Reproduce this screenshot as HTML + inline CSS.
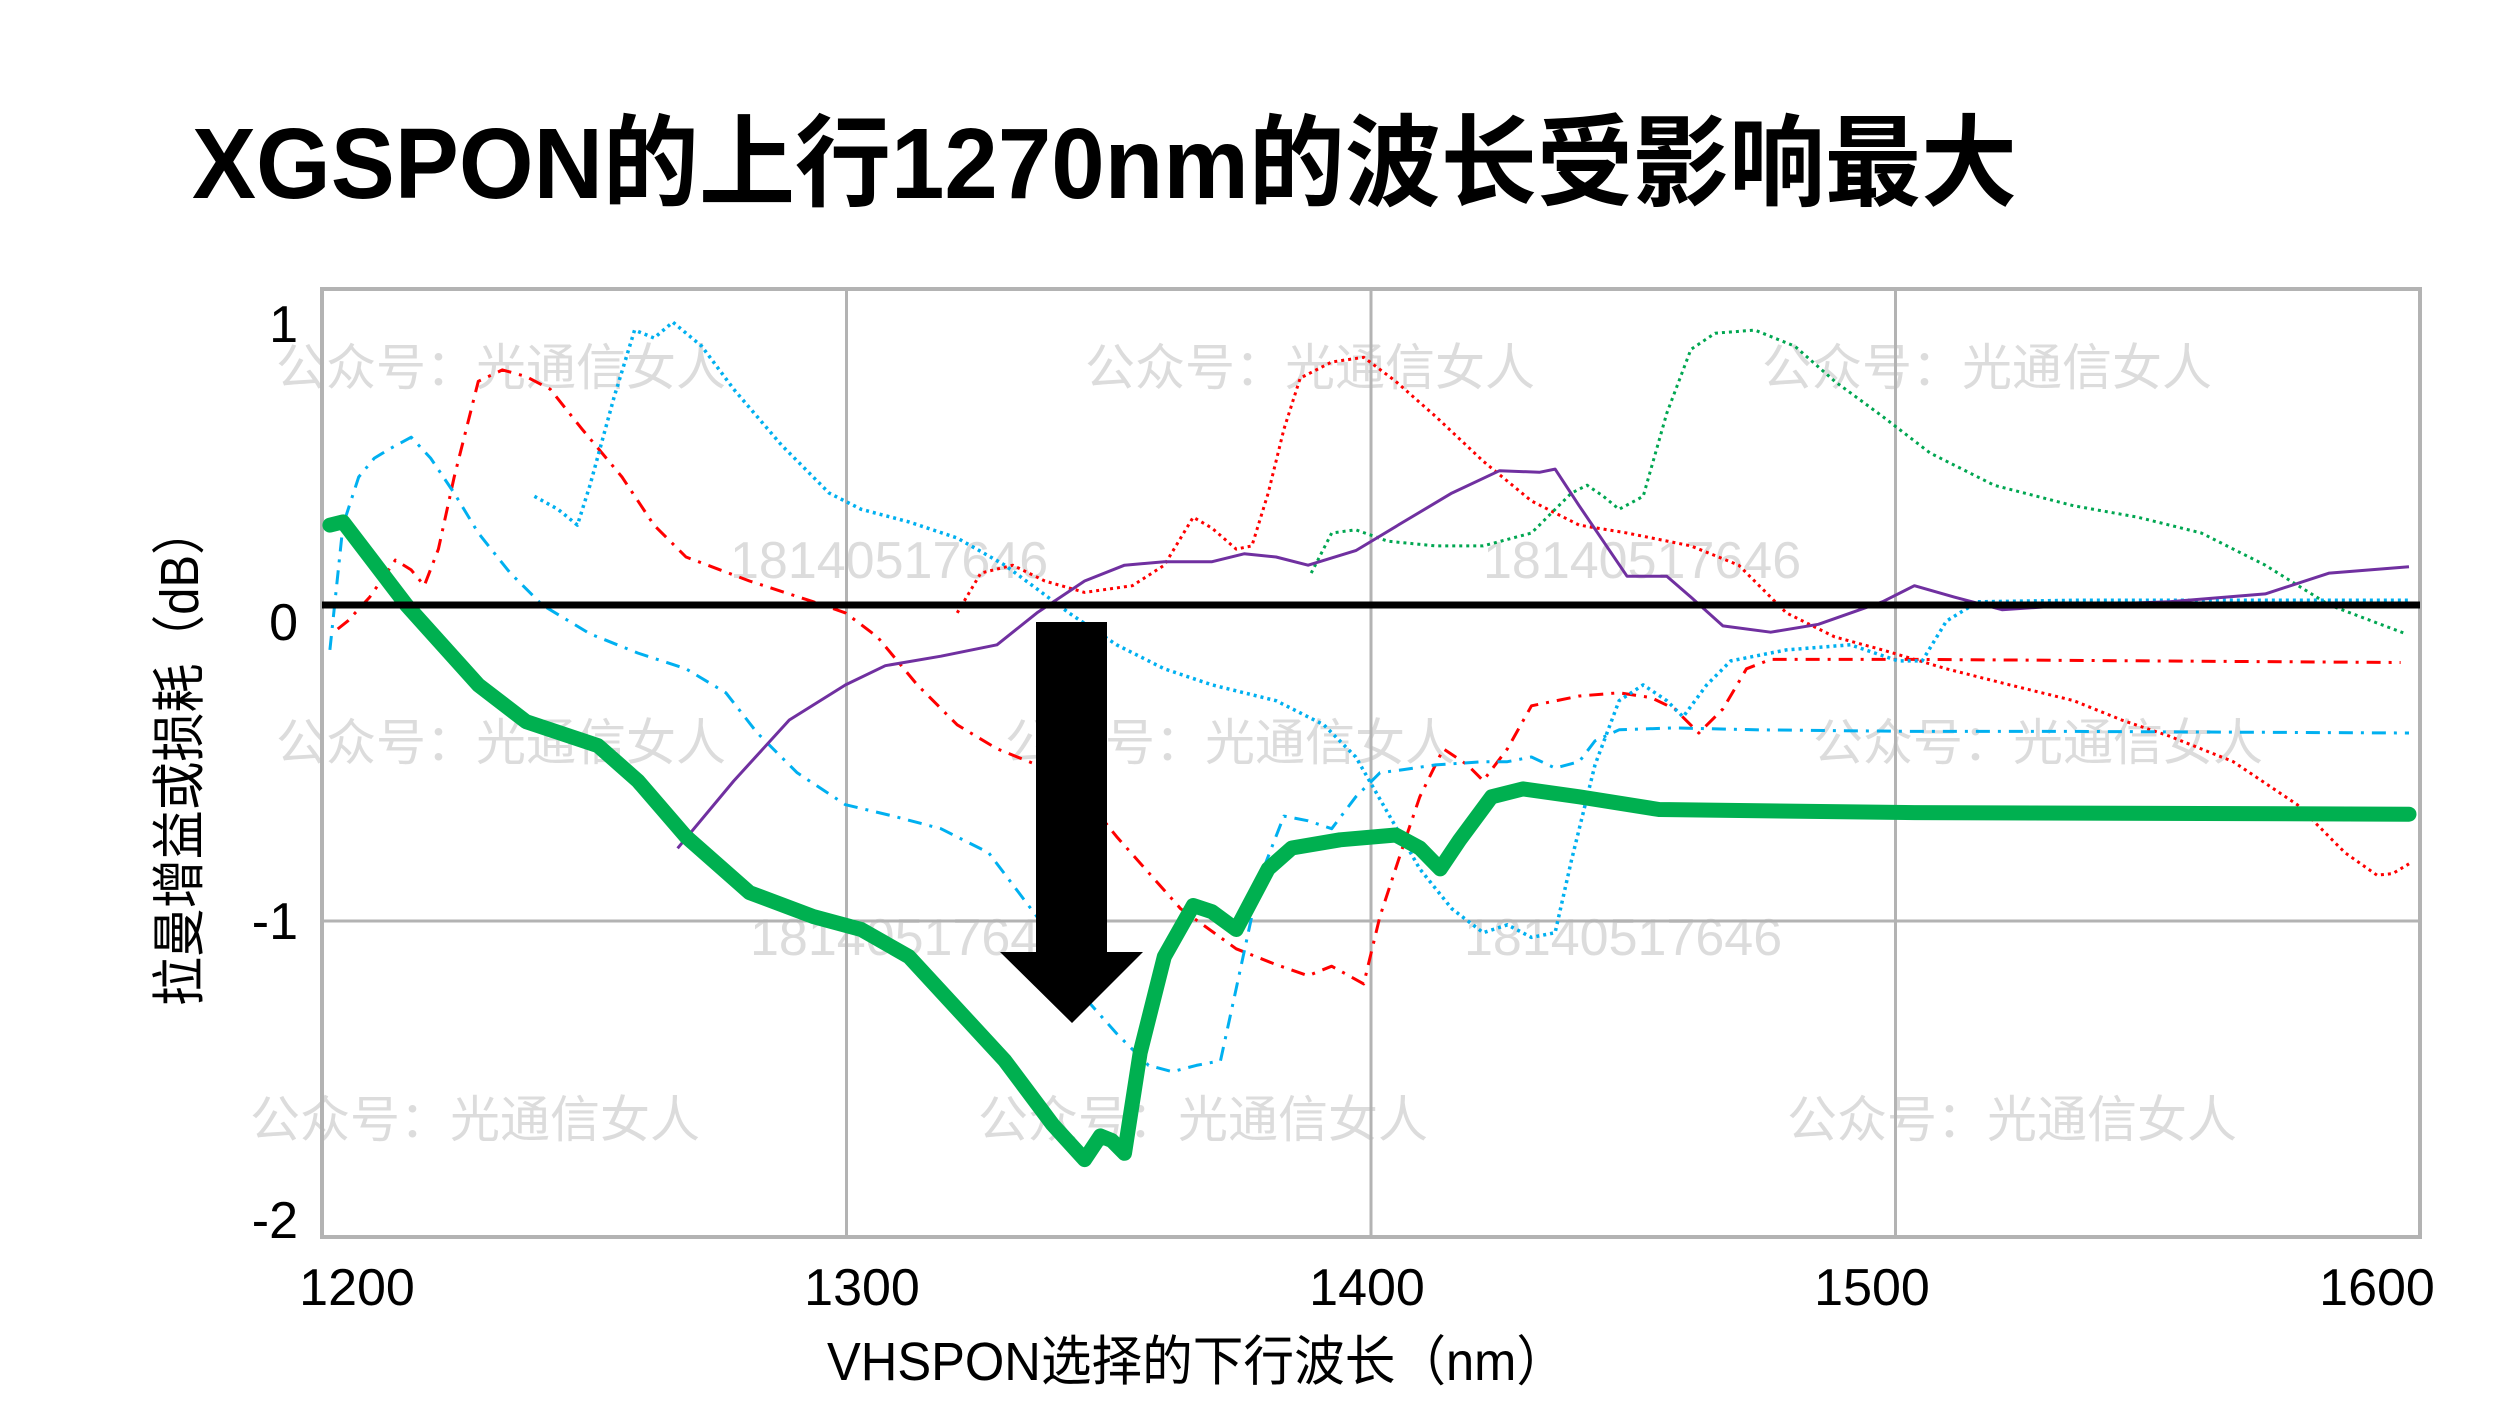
<!DOCTYPE html>
<html><head><meta charset="utf-8">
<style>
html,body{margin:0;padding:0;background:#fff;}
svg{display:block;}
text{font-family:"Liberation Sans","Noto Sans CJK SC",sans-serif;}
</style></head>
<body>
<svg id="chart" width="2500" height="1406" viewBox="0 0 2500 1406" xmlns="http://www.w3.org/2000/svg">
<rect width="2500" height="1406" fill="#fff"/>
<text x="192" y="198" font-size="100" font-weight="bold" textLength="1825" lengthAdjust="spacingAndGlyphs" font-family="'Liberation Sans','Noto Sans CJK SC',sans-serif">XGSPON的上行1270nm的波长受影响最大</text>
<g id="wm"></g>
<g id="grid"></g>
<g id="series"></g>
<g id="axes"></g>
<polygon points="1036,622 1107,622 1107,952 1143,952 1072,1023 1000,952 1036,952" fill="#000"/>
<text x="1197" y="1380" font-size="54" text-anchor="middle" textLength="740" lengthAdjust="spacingAndGlyphs">VHSPON选择的下行波长（nm）</text>
<text transform="translate(198,756) rotate(-90)" font-size="54" text-anchor="middle" textLength="500" lengthAdjust="spacingAndGlyphs">拉曼增益或损耗（dB）</text>
</svg>
<script>
const xTicks=[1200,1300,1400,1500,1600];
const xTickLabels=["1200","1300","1400","1500","1600"];
const yTicks=[1,0,-1,-2];
const yTickLabels=["1","0","-1","-2"];

const greenX=[1201.5,1204,1216.1,1229.8,1238.9,1252.6,1260.2,1269.4,1281.5,1293.7,1302.8,1311.9,1330.2,1339.3,1345.4,1348.4,1350.6,1353,1356,1360.6,1366.1,1369.7,1374.3,1380.4,1384.9,1394.1,1404.7,1409.3,1413.2,1416.9,1423,1429,1439.7,1454.9,1503.6,1597.9];
const greenY=[0.253,0.263,0,-0.253,-0.369,-0.445,-0.556,-0.733,-0.91,-0.986,-1.027,-1.113,-1.442,-1.644,-1.755,-1.68,-1.695,-1.735,-1.416,-1.113,-0.951,-0.971,-1.027,-0.835,-0.769,-0.743,-0.728,-0.769,-0.835,-0.744,-0.607,-0.582,-0.607,-0.647,-0.657,-0.662];

const purpleX=[1267.8,1278.5,1289.1,1299.8,1307.4,1318,1328.7,1336.3,1345.4,1353,1360.6,1369.7,1375.8,1381.9,1388,1397.1,1406.2,1415.4,1424.5,1432.1,1435.1,1439.7,1448.8,1456.4,1461,1467.1,1476.2,1485.3,1497.5,1503.6,1511.2,1520.3,1534,1552.2,1570.5,1582.7,1597.9];
const purpleY=[-0.77,-0.557,-0.364,-0.253,-0.192,-0.162,-0.126,-0.025,0.076,0.126,0.137,0.137,0.162,0.152,0.126,0.172,0.263,0.354,0.425,0.42,0.43,0.314,0.091,0.091,0.025,-0.066,-0.086,-0.061,0.01,0.061,0.025,-0.015,0,0.01,0.035,0.101,0.121];

const redDashX=[1203,1204.9,1209.1,1214,1217,1219.5,1222.2,1225.2,1229.8,1234.4,1238.9,1243.5,1249.6,1257.2,1263.3,1269.4,1281.5,1293.7,1299.8,1305.9,1313.5,1321.1,1328.7,1336.3,1345.4,1351.5,1363.7,1374.3,1381.9,1388,1392.5,1398.6,1401.7,1406.2,1409.3,1413.8,1418.4,1421.4,1426,1430.6,1439.7,1447.3,1453.4,1457.9,1462.5,1467.1,1471.6,1476.2,1503.6,1596.3];
const redDashY=[-0.076,-0.051,0.025,0.142,0.111,0.061,0.177,0.405,0.708,0.744,0.723,0.683,0.556,0.405,0.253,0.152,0.076,0.01,-0.025,-0.101,-0.253,-0.379,-0.455,-0.506,-0.607,-0.733,-0.961,-1.088,-1.138,-1.173,-1.143,-1.199,-0.986,-0.759,-0.607,-0.455,-0.506,-0.556,-0.455,-0.319,-0.288,-0.278,-0.293,-0.329,-0.405,-0.329,-0.202,-0.172,-0.172,-0.182];

const redDotX=[1321.1,1325.6,1331.7,1337.8,1345.4,1354.5,1360.6,1366.1,1369.7,1374.3,1377.3,1380.4,1383.4,1386.5,1392.5,1398.6,1404.7,1412.3,1421.4,1430.6,1439.7,1448.8,1461,1470.1,1479.2,1488.4,1497.5,1509.7,1521.8,1534,1543.1,1552.2,1564.4,1576.6,1585.7,1591.8,1594.8,1597.9];
const redDotY=[-0.025,0.101,0.126,0.076,0.04,0.061,0.126,0.278,0.243,0.177,0.187,0.354,0.556,0.718,0.769,0.784,0.708,0.597,0.455,0.329,0.253,0.228,0.187,0.126,-0.025,-0.101,-0.142,-0.202,-0.253,-0.303,-0.364,-0.415,-0.496,-0.632,-0.784,-0.855,-0.85,-0.819];

const greenDotX=[1388.6,1392.5,1397.1,1403.2,1412.3,1421.4,1430.6,1438.2,1441.2,1444.3,1447.3,1451.9,1456.4,1461,1465.6,1473.2,1480.8,1488.4,1497.5,1506.6,1518.8,1534,1546.2,1558.3,1570.5,1582.7,1597.3];
const greenDotY=[0.101,0.228,0.238,0.202,0.187,0.187,0.228,0.354,0.379,0.344,0.303,0.344,0.607,0.809,0.86,0.87,0.819,0.708,0.597,0.481,0.379,0.314,0.278,0.228,0.126,0,-0.091];

const cyanDotX=[1240.5,1245,1248.7,1251.1,1255.7,1259.6,1263.3,1266.9,1272.4,1278.5,1287.6,1296.7,1302.8,1311.9,1321.1,1330.2,1336.3,1342.4,1351.5,1360.6,1369.7,1381.9,1391,1397.1,1403.2,1409.3,1415.4,1421.4,1426,1430.6,1435.1,1438.2,1442.7,1447.3,1451.9,1456.4,1459.5,1464,1468.6,1479.2,1491.4,1500.5,1505.1,1509.7,1515.7,1534,1564.4,1597.9];
const cyanDotY=[0.344,0.303,0.253,0.379,0.658,0.87,0.845,0.895,0.819,0.683,0.506,0.354,0.303,0.263,0.212,0.126,0.051,-0.025,-0.126,-0.202,-0.253,-0.303,-0.379,-0.481,-0.658,-0.835,-0.961,-1.037,-1.012,-1.052,-1.037,-0.809,-0.506,-0.303,-0.253,-0.303,-0.354,-0.253,-0.177,-0.142,-0.126,-0.177,-0.177,-0.051,0.01,0.015,0.015,0.015];

const cyanDashX=[1201.5,1204,1207,1210,1213.1,1217,1220.7,1225.2,1229.8,1235.9,1242,1251.1,1260.2,1269.4,1277,1283,1290.6,1299.8,1308.9,1318,1327.1,1336.3,1343.9,1351.5,1357.6,1362.1,1366.7,1371.3,1374.3,1378.9,1383.4,1388,1392.5,1397.1,1401.7,1406.2,1412.3,1421.4,1426,1430.6,1435.1,1439.7,1442.7,1447.3,1458,1473.2,1503.6,1534,1597.9];
const cyanDashY=[-0.142,0.253,0.405,0.465,0.496,0.531,0.465,0.354,0.228,0.101,0,-0.091,-0.152,-0.202,-0.278,-0.405,-0.531,-0.632,-0.668,-0.708,-0.784,-0.986,-1.214,-1.356,-1.457,-1.477,-1.457,-1.442,-1.214,-0.86,-0.668,-0.683,-0.708,-0.607,-0.531,-0.521,-0.506,-0.496,-0.496,-0.481,-0.516,-0.496,-0.43,-0.395,-0.389,-0.395,-0.4,-0.4,-0.405];

const PL=322,PR=2420,PT=289,PB=1237;
function x(v){return PL+(v-1200)/400*(PR-PL);}
function y(v){return PT+(1-v)/3*(PB-PT);}
const NS="http://www.w3.org/2000/svg";
function mk(tag,attrs,parent){const e=document.createElementNS(NS,tag);for(const k in attrs)e.setAttribute(k,attrs[k]);parent.appendChild(e);return e;}

const wm=document.getElementById('wm');
const wmTexts=[[276,385],[1085,385],[1762,385],[276,760],[1005,760],[1813,760],[250,1137],[978,1137],[1787,1137]];
wmTexts.forEach(p=>{
  const t=mk('text',{x:p[0],y:p[1],'font-size':50,fill:'#dcdcdc','font-family':"'Noto Serif CJK SC',serif"},wm);
  t.textContent='公众号：光通信女人';
  
  
});
const wmNums=[[730,578],[1483,578],[750,955],[1464,955]];
wmNums.forEach(p=>{
  const t=mk('text',{x:p[0],y:p[1],'font-size':52,fill:'#dcdcdc','font-family':"'Liberation Serif',serif"},wm);
  t.textContent='18140517646';
  
  
});

const grid=document.getElementById('grid');
xTicks.slice(1,4).forEach(v=>{
  const l=mk('line',{x1:x(v),x2:x(v),y1:PT,y2:PB,stroke:'#b3b3b3','stroke-width':3},grid);
  
  
});
[-1].forEach(v=>{
  const l=mk('line',{x1:PL,x2:PR,y1:y(v),y2:y(v),stroke:'#b3b3b3','stroke-width':3},grid);
  
  
});
const frame=mk('rect',{x:PL,y:PT,width:PR-PL,height:PB-PT,fill:'none',stroke:'#b3b3b3','stroke-width':4},grid);



const ser=document.getElementById('series');
function series(xs,ys,style,name){
  const pts=xs.map((v,i)=>x(v).toFixed(1)+','+y(ys[i]).toFixed(1)).join(' ');
  const p=mk('polyline',Object.assign({points:pts,fill:'none','stroke-linejoin':'round'},style),ser);
  
  
}
series(redDashX,redDashY,{stroke:'#ff0000','stroke-width':3,'stroke-dasharray':'14 8 3 8'},'red-dashdot-series');
series(redDotX,redDotY,{stroke:'#ff0000','stroke-width':3,'stroke-dasharray':'3 4'},'red-dotted-series');
series(greenDotX,greenDotY,{stroke:'#00a651','stroke-width':3,'stroke-dasharray':'3 4'},'green-dotted-series');
series(cyanDotX,cyanDotY,{stroke:'#00b0f0','stroke-width':3.5,'stroke-dasharray':'3 4'},'cyan-dotted-series');
series(cyanDashX,cyanDashY,{stroke:'#00b0f0','stroke-width':3,'stroke-dasharray':'14 8 3 8'},'cyan-dashdot-series');
series(purpleX,purpleY,{stroke:'#7030a0','stroke-width':3},'purple-series');
series(greenX,greenY,{stroke:'#00b050','stroke-width':15,'stroke-linecap':'round'},'green-thick-series');

const axes=document.getElementById('axes');
const zl=mk('line',{x1:PL,x2:PR,y1:y(0),y2:y(0),stroke:'#000','stroke-width':7},axes);


const yLabelShift=[35,17,0,-17];
yTicks.forEach((v,i)=>{
  const t=mk('text',{x:298,y:y(v)+18+yLabelShift[i],'font-size':52,'text-anchor':'end'},axes);
  t.textContent=yTickLabels[i];
  
  
});
xTicks.forEach((v,i)=>{
  const t=mk('text',{x:357+i*505,y:1305,'font-size':52,'text-anchor':'middle'},axes);
  t.textContent=xTickLabels[i];
  
  
});
</script>
</body></html>
